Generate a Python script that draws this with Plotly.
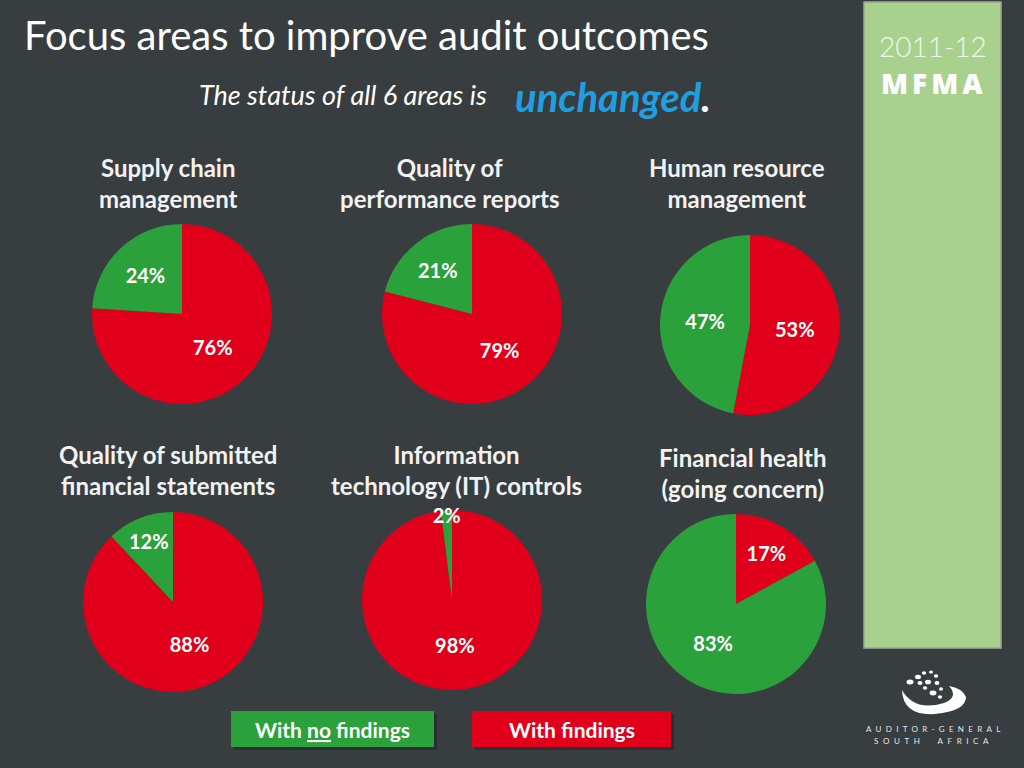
import plotly.graph_objects as go

# ---------------- data ----------------
area_titles = [
    "Supply chain<br>management",
    "Quality of<br>performance reports",
    "Human resource<br>management",
    "Quality of submitted<br>financial statements",
    "Information<br>technology (IT) controls",
    "Financial health<br>(going concern)",
]
with_findings = [76, 79, 53, 88, 98, 17]
no_findings = [24, 21, 47, 12, 2, 83]
slice_labels = ["With findings", "With no findings"]

# ---------------- layout / style ----------------
W, H = 1024, 768
BG = "#383d40"
GREEN = "#2aa13a"
RED = "#e0001b"
FONT = "Lato"
pie_centers = [(182, 314), (472, 314), (750, 325), (173, 602), (452, 600), (736, 604)]
title_centers = [(168, 183), (450, 183), (737, 183), (168, 470), (456, 470), (743, 473)]
R = 90


def fx(x):
    return x / W


def fy(y):
    return 1 - y / H


fig = go.Figure()
annotations = []

for i in range(6):
    cx, cy = pie_centers[i]
    fig.add_trace(go.Pie(
        labels=slice_labels,
        values=[with_findings[i], no_findings[i]],
        marker=dict(colors=[RED, GREEN], line=dict(width=0)),
        sort=False,
        direction="clockwise",
        rotation=0,
        texttemplate="%{value}%",
        textposition="inside",
        insidetextorientation="horizontal",
        textfont=dict(family=FONT, size=20, color="white", weight="bold"),
        domain=dict(x=[fx(cx - R), fx(cx + R)], y=[fy(cy + R), fy(cy - R)]),
        showlegend=False,
        hoverinfo="label+value",
    ))
    tx, ty = title_centers[i]
    annotations.append(dict(
        x=fx(tx), y=fy(ty),
        text=area_titles[i],
        xanchor="center", yanchor="middle", align="center",
        font=dict(family=FONT, size=24, color="#f2f2f2", weight="bold"),
    ))

shapes = []
# sidebar
shapes.append(dict(type="rect", xref="paper", yref="paper",
                   x0=fx(864), x1=fx(1001), y0=fy(648), y1=fy(2),
                   fillcolor="#a9d18e", line=dict(color="#9aa894", width=1.5), layer="below"))
# legend boxes with shadow
for (x0, x1, col) in [(231, 434, GREEN), (472, 671, RED)]:
    shapes.append(dict(type="rect", xref="paper", yref="paper",
                       x0=fx(x0 + 3), x1=fx(x1 + 3), y0=fy(750), y1=fy(714),
                       fillcolor="#2b2f31", line=dict(width=0), layer="below"))
    shapes.append(dict(type="rect", xref="paper", yref="paper",
                       x0=fx(x0), x1=fx(x1), y0=fy(747), y1=fy(711),
                       fillcolor=col, line=dict(width=0), layer="below"))


# logo swoosh
def p(x, y):
    return f"{fx(x):.5f},{fy(y):.5f}"


swoosh = (f"M {p(902,690)} Q {p(903,716)} {p(935,714)} Q {p(966,711)} {p(966,697)} "
          f"Q {p(962,688)} {p(949,686)} Q {p(959,697)} {p(944,703)} "
          f"Q {p(924,709)} {p(912,701)} Q {p(905,696)} {p(902,690)} Z")
shapes.append(dict(type="path", xref="paper", yref="paper", path=swoosh,
                   fillcolor="white", line=dict(width=0)))
dots = [(910, 682, 3.5, 2.5), (918, 677, 3, 2.2), (924, 673, 2.2, 1.8), (931, 672, 2, 1.6),
        (936, 676, 2.2, 1.8), (928, 682, 3, 2.3), (937, 683, 2.4, 2), (941, 689, 2, 1.8),
        (925, 688, 2.2, 1.8), (933, 693, 3.4, 2.4), (940, 697, 2.2, 1.8), (920, 683, 2.5, 2)]
for (x, y, rx, ry) in dots:
    shapes.append(dict(type="circle", xref="paper", yref="paper",
                       x0=fx(x - rx), x1=fx(x + rx), y0=fy(y + ry), y1=fy(y - ry),
                       fillcolor="white", line=dict(width=0)))

annotations += [
    dict(x=fx(22), y=fy(35), text="Focus areas to improve audit outcomes",
         xanchor="left", yanchor="middle",
         font=dict(family=FONT, size=40, color="white")),
    dict(x=fx(489), y=fy(94), text="<i>The status of all 6 areas is</i>",
         xanchor="right", yanchor="middle",
         font=dict(family=FONT, size=27, color="white")),
    dict(x=fx(513), y=fy(97),
         text="<b><i><span style='color:#1f9fe0'>unchanged</span>.</i></b>",
         xanchor="left", yanchor="middle",
         font=dict(family=FONT, size=40, color="white")),
    dict(x=fx(933), y=fy(46), text="2011-12", xanchor="center", yanchor="middle",
         font=dict(family=FONT, size=28, color="#f1f6ec", weight=300)),
    dict(x=fx(934), y=fy(83),
         text="<span style='letter-spacing:4px'>MFMA</span>",
         xanchor="center", yanchor="middle",
         font=dict(family="Open Sans", size=28, color="white", weight=800)),
    dict(x=fx(935), y=fy(729),
         text="<span style='letter-spacing:4.3px'>AUDITOR-GENERAL</span>",
         xanchor="center", yanchor="middle",
         font=dict(family=FONT, size=8, color="#e6e6e6")),
    dict(x=fx(933), y=fy(741),
         text="<span style='letter-spacing:4.6px'>SOUTH  AFRICA</span>",
         xanchor="center", yanchor="middle",
         font=dict(family=FONT, size=8, color="#e6e6e6")),
    dict(x=fx(332.5), y=fy(729), text="<b>With <u>no</u> findings</b>",
         xanchor="center", yanchor="middle",
         font=dict(family=FONT, size=21, color="white")),
    dict(x=fx(571.5), y=fy(729), text="<b>With findings</b>",
         xanchor="center", yanchor="middle",
         font=dict(family=FONT, size=21, color="white")),
]
for a in annotations:
    a.update(xref="paper", yref="paper", showarrow=False)

fig.update_layout(
    width=W, height=H,
    margin=dict(l=0, r=0, t=0, b=0),
    paper_bgcolor=BG, plot_bgcolor=BG,
    shapes=shapes,
    annotations=annotations,
    uniformtext=dict(minsize=20, mode="show"),
    showlegend=False,
)

fig.write_html(
    "out.html",
    config={"displayModeBar": False},
    post_script="document.body.style.margin='0';document.body.style.background='" + BG + "';",
)
